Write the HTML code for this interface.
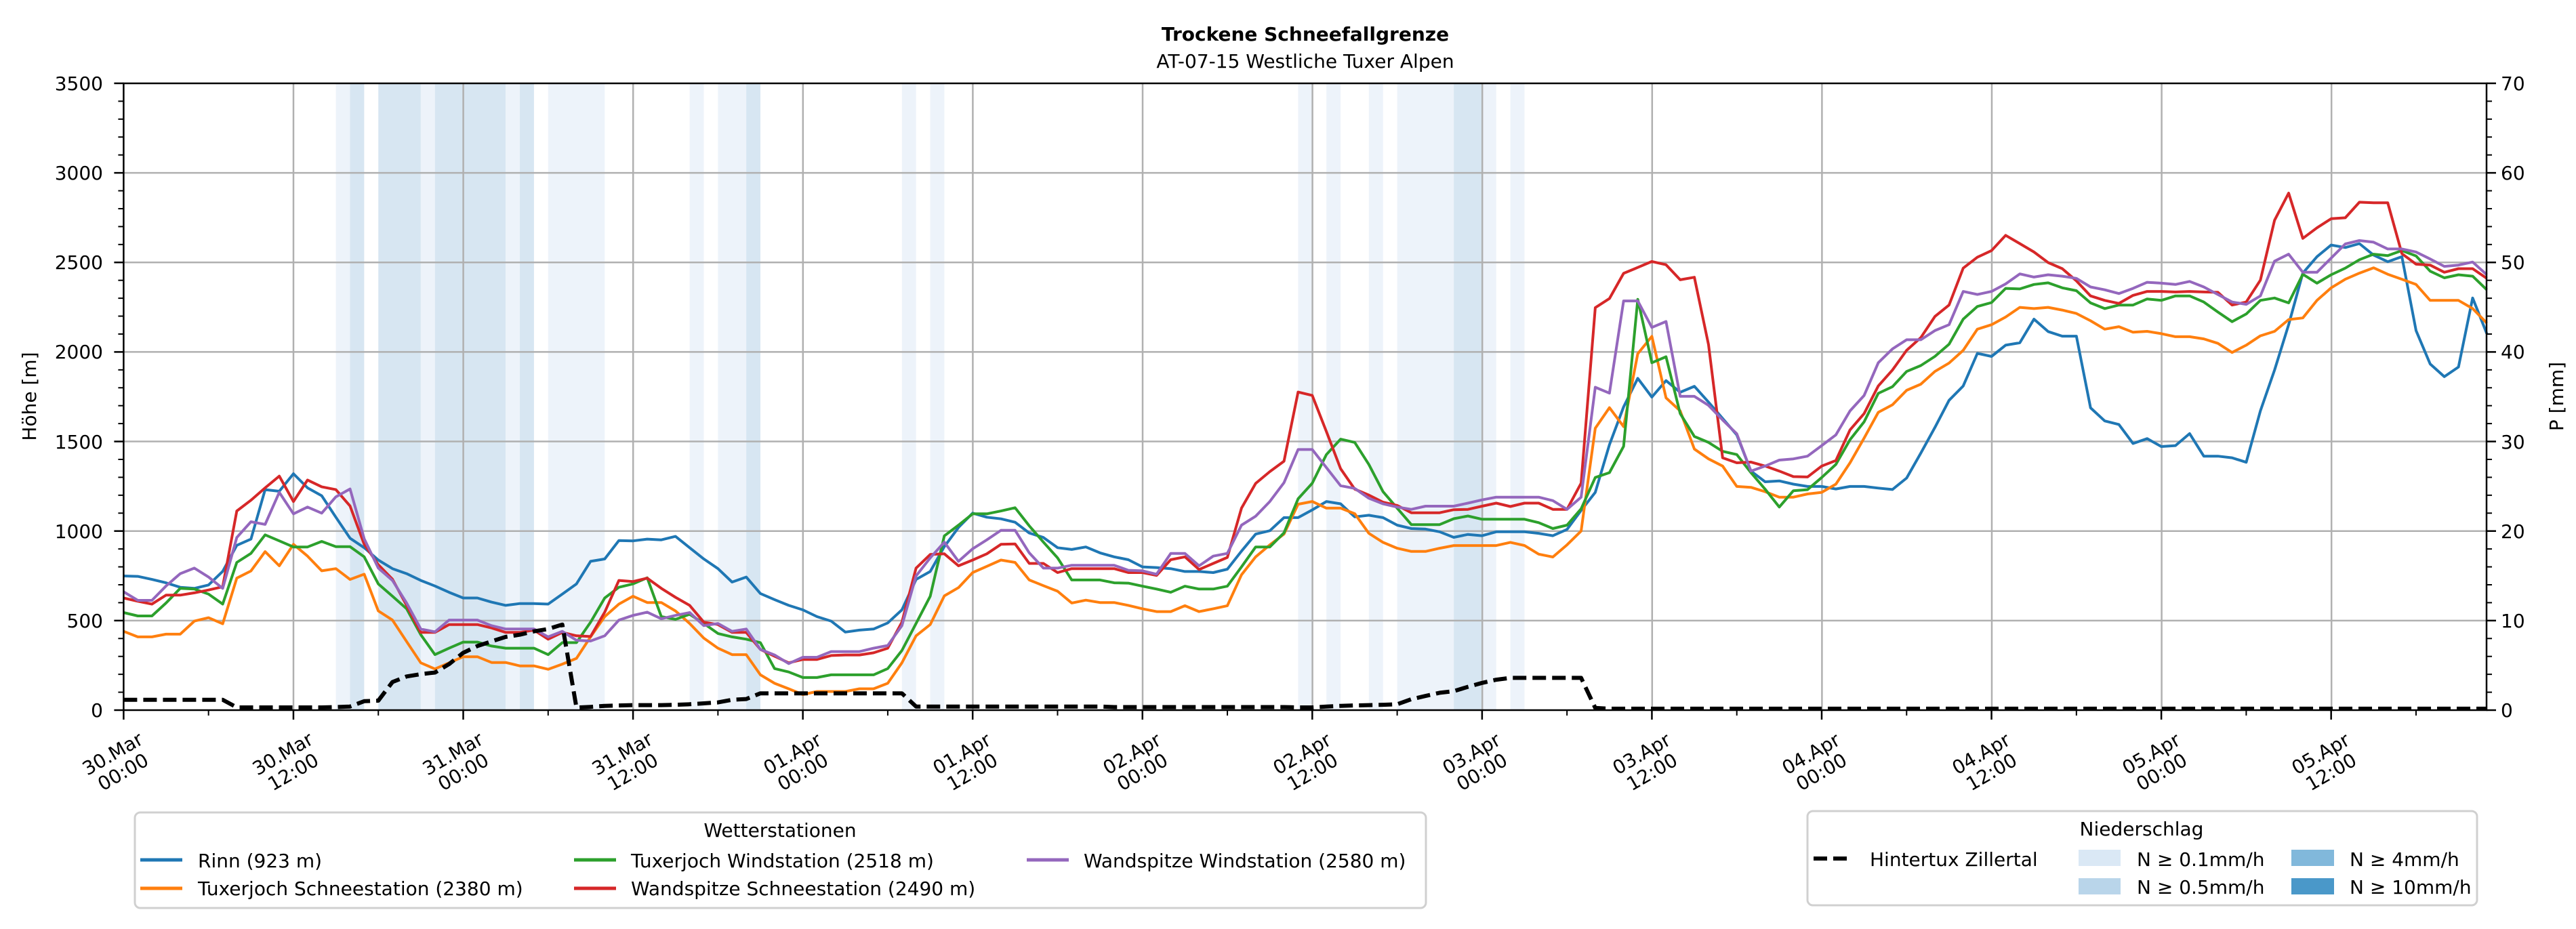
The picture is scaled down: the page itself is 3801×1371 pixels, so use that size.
<!DOCTYPE html>
<html><head><meta charset="utf-8"><style>
html,body{margin:0;padding:0;background:#fff}
svg{display:block}
text{font-family:"DejaVu Sans","Liberation Sans",sans-serif;font-size:28px;fill:#000}
</style></head><body>
<svg id="s" width="3801" height="1371" viewBox="0 0 3801 1371" xmlns="http://www.w3.org/2000/svg">
<rect width="3801" height="1371" fill="#fff"/>
<g id="bands"></g>
<g id="grid" stroke="#b0b0b0" stroke-width="2.5"></g>
<g id="series" fill="none" stroke-linejoin="round"></g>
<g id="axes" stroke="#000"></g>
<text x="1926" y="60" text-anchor="middle" font-weight="bold">Trockene Schneefallgrenze</text>
<text x="1926" y="100" text-anchor="middle">AT-07-15 Westliche Tuxer Alpen</text>
<g text-anchor="end">
<text x="152" y="1058">0</text><text x="152" y="926">500</text><text x="152" y="794">1000</text><text x="152" y="662">1500</text>
<text x="152" y="529">2000</text><text x="152" y="397">2500</text><text x="152" y="265">3000</text><text x="152" y="133">3500</text>
</g>
<g>
<text x="3690" y="1058">0</text><text x="3690" y="926">10</text><text x="3690" y="794">20</text><text x="3690" y="662">30</text>
<text x="3690" y="529">40</text><text x="3690" y="397">50</text><text x="3690" y="265">60</text><text x="3690" y="133">70</text>
</g>
<text transform="translate(53,585) rotate(-90)" text-anchor="middle">Höhe [m]</text>
<text transform="translate(3782,585) rotate(-90)" text-anchor="middle">P [mm]</text>
<g id="xl" text-anchor="middle">
<g transform="translate(174,1126) rotate(-30)"><text y="-6">30.Mar</text><text y="25">00:00</text></g>
<g transform="translate(425,1126) rotate(-30)"><text y="-6">30.Mar</text><text y="25">12:00</text></g>
<g transform="translate(676,1126) rotate(-30)"><text y="-6">31.Mar</text><text y="25">00:00</text></g>
<g transform="translate(926,1126) rotate(-30)"><text y="-6">31.Mar</text><text y="25">12:00</text></g>
<g transform="translate(1177,1126) rotate(-30)"><text y="-6">01.Apr</text><text y="25">00:00</text></g>
<g transform="translate(1427,1126) rotate(-30)"><text y="-6">01.Apr</text><text y="25">12:00</text></g>
<g transform="translate(1678,1126) rotate(-30)"><text y="-6">02.Apr</text><text y="25">00:00</text></g>
<g transform="translate(1929,1126) rotate(-30)"><text y="-6">02.Apr</text><text y="25">12:00</text></g>
<g transform="translate(2179,1126) rotate(-30)"><text y="-6">03.Apr</text><text y="25">00:00</text></g>
<g transform="translate(2430,1126) rotate(-30)"><text y="-6">03.Apr</text><text y="25">12:00</text></g>
<g transform="translate(2680,1126) rotate(-30)"><text y="-6">04.Apr</text><text y="25">00:00</text></g>
<g transform="translate(2931,1126) rotate(-30)"><text y="-6">04.Apr</text><text y="25">12:00</text></g>
<g transform="translate(3182,1126) rotate(-30)"><text y="-6">05.Apr</text><text y="25">00:00</text></g>
<g transform="translate(3432,1126) rotate(-30)"><text y="-6">05.Apr</text><text y="25">12:00</text></g>
</g>
<!-- Legend 1 -->
<rect x="199" y="1199" width="1905" height="141" rx="8" fill="#fff" stroke="#d0d0d0" stroke-width="3"/>
<text x="1151" y="1235" text-anchor="middle">Wetterstationen</text>
<g stroke-width="5">
<line x1="207" y1="1269" x2="269" y2="1269" stroke="#1f77b4"/>
<line x1="207" y1="1311" x2="269" y2="1311" stroke="#ff7f0e"/>
<line x1="847" y1="1269" x2="909" y2="1269" stroke="#2ca02c"/>
<line x1="847" y1="1311" x2="909" y2="1311" stroke="#d62728"/>
<line x1="1515" y1="1269" x2="1577" y2="1269" stroke="#9467bd"/>
</g>
<text x="292" y="1280">Rinn (923 m)</text>
<text x="292" y="1321">Tuxerjoch Schneestation (2380 m)</text>
<text x="931" y="1280">Tuxerjoch Windstation (2518 m)</text>
<text x="931" y="1321">Wandspitze Schneestation (2490 m)</text>
<text x="1599" y="1280">Wandspitze Windstation (2580 m)</text>
<!-- Legend 2 -->
<rect x="2667" y="1197" width="988" height="139" rx="8" fill="#fff" stroke="#d0d0d0" stroke-width="3"/>
<text x="3160" y="1233" text-anchor="middle">Niederschlag</text>
<line x1="2676" y1="1267" x2="2734" y2="1267" stroke="#000" stroke-width="6" stroke-dasharray="20 9"/>
<text x="2759" y="1278">Hintertux Zillertal</text>
<rect x="3067" y="1254" width="62" height="24" fill="#dae8f5"/>
<rect x="3067" y="1296" width="62" height="24" fill="#b9d5ea"/>
<rect x="3381" y="1254" width="63" height="24" fill="#81b8db"/>
<rect x="3381" y="1296" width="63" height="24" fill="#4a98c9"/>
<text x="3153" y="1278">N ≥ 0.1mm/h</text>
<text x="3153" y="1319">N ≥ 0.5mm/h</text>
<text x="3467" y="1278">N ≥ 4mm/h</text>
<text x="3467" y="1319">N ≥ 10mm/h</text>
</svg>
<script>
(function(){
var NS="http://www.w3.org/2000/svg";
var L=182.4,R=3669,T=123,B=1048,DX=20.88,SY=0.2643;
function X(h){return L+h*DX}function Y(v){return B-v*SY}
function el(p,n,a){var e=document.createElementNS(NS,n);for(var k in a)e.setAttribute(k,a[k]);document.getElementById(p).appendChild(e);return e}
var bands=[[15,16,0],[16,17,1],[18,21,1],[21,22,0],[22,27,1],[27,28,0],[28,29,1],[30,34,0],[40,41,0],[42,44,0],[44,45,1],[55,56,0],[57,58,0],[83,84,0],[85,86,0],[88,89,0],[90,94,0],[94,96,1],[96,97,0],[98,99,0]];
bands.forEach(function(b){el("bands","rect",{x:X(b[0]),y:T,width:(b[1]-b[0])*DX,height:B-T,fill:b[2]?"#d7e6f2":"#edf3fa"})});
for(var k=1;k<14;k++){var x=L+k*250.6;el("grid","line",{x1:x,y1:T,x2:x,y2:B})}
for(var k=1;k<7;k++){var y=B-k*132.15;el("grid","line",{x1:L,y1:y,x2:R,y2:y})}
var D={
blue:[749,747,730,711,686,680,699,775,920,955,1231,1222,1320,1241,1197,1077,960,907,838,790,762,724,693,658,626,626,603,585,595,595,592,648,705,831,844,947,945,955,951,970,907,844,790,715,743,651,617,585,560,522,497,436,447,453,487,560,730,774,913,1020,1100,1077,1068,1049,989,964,907,897,911,878,856,840,800,796,790,774,774,768,787,888,983,1002,1075,1075,1118,1165,1152,1079,1088,1075,1033,1014,1011,996,965,981,974,996,996,996,987,974,1009,1115,1216,1482,1693,1853,1748,1840,1775,1808,1720,1629,1537,1335,1275,1280,1262,1249,1249,1235,1249,1249,1240,1232,1296,1435,1578,1730,1810,1992,1975,2038,2051,2183,2114,2088,2088,1688,1615,1595,1489,1516,1472,1477,1544,1418,1418,1409,1384,1671,1899,2152,2440,2532,2597,2583,2605,2541,2504,2532,2119,1933,1862,1916,2301,2102],
orange:[440,409,409,424,424,497,516,482,737,777,885,806,926,860,778,790,730,759,554,503,383,264,230,264,298,298,266,266,247,247,228,257,289,409,522,592,636,601,601,554,484,402,346,310,310,197,150,119,87,104,104,104,119,119,150,264,415,478,638,684,768,803,838,825,727,695,664,598,614,601,601,585,566,550,550,583,550,566,583,756,856,923,983,1150,1165,1128,1128,1097,987,937,904,886,886,904,919,919,919,919,937,919,871,855,923,1000,1574,1689,1583,1990,2087,1744,1671,1458,1403,1363,1249,1244,1220,1189,1189,1207,1216,1262,1381,1519,1663,1705,1786,1820,1891,1938,2009,2127,2152,2195,2249,2242,2249,2234,2215,2174,2127,2141,2110,2115,2102,2085,2085,2073,2048,1997,2038,2090,2115,2181,2190,2288,2358,2406,2440,2470,2434,2406,2377,2288,2288,2288,2242,2161],
green:[545,526,526,598,680,676,648,592,825,875,979,945,911,911,942,913,913,856,705,636,566,421,310,346,380,380,358,346,346,346,310,377,377,491,626,686,705,739,522,507,535,484,428,409,396,377,232,213,182,182,197,197,197,197,232,333,484,636,973,1033,1096,1096,1112,1130,1029,938,850,727,727,727,711,709,692,676,658,692,676,676,692,800,911,911,990,1180,1267,1427,1513,1495,1372,1220,1128,1036,1036,1036,1069,1084,1066,1066,1066,1066,1047,1014,1033,1124,1299,1326,1473,2294,1940,1973,1656,1528,1495,1445,1427,1326,1234,1134,1225,1231,1299,1372,1510,1610,1769,1806,1891,1924,1975,2043,2183,2254,2276,2355,2352,2377,2386,2358,2342,2274,2242,2262,2262,2296,2288,2313,2313,2279,2223,2169,2212,2288,2301,2274,2434,2384,2431,2468,2515,2546,2538,2566,2536,2451,2414,2431,2423,2347],
red:[626,608,592,642,642,655,671,689,1112,1172,1241,1307,1165,1285,1247,1231,1140,926,812,731,585,434,434,478,478,478,459,434,434,447,396,434,415,411,547,724,718,737,680,630,585,491,478,434,434,339,301,264,283,283,305,308,308,320,346,491,793,869,873,806,838,873,926,928,819,819,768,790,790,790,790,768,768,752,840,856,785,819,853,1128,1266,1332,1390,1776,1757,1555,1348,1234,1201,1161,1143,1102,1102,1102,1119,1121,1139,1156,1137,1156,1156,1121,1121,1267,2247,2298,2439,2472,2505,2487,2403,2417,2041,1409,1381,1385,1363,1335,1304,1302,1363,1394,1565,1656,1810,1899,2009,2080,2198,2262,2468,2529,2566,2651,2605,2558,2499,2465,2397,2313,2288,2271,2316,2338,2338,2335,2338,2335,2333,2262,2279,2401,2735,2887,2634,2693,2744,2749,2836,2833,2833,2549,2490,2485,2445,2465,2465,2411],
purple:[661,613,613,693,762,793,743,680,964,1052,1037,1216,1096,1134,1100,1191,1235,957,793,724,598,453,437,503,503,503,472,453,453,453,409,440,390,386,415,503,529,547,510,529,545,472,484,440,453,339,308,260,295,295,327,327,327,346,361,472,749,850,938,831,901,951,1004,1004,878,793,793,809,809,809,809,781,778,759,875,875,806,860,875,1033,1083,1165,1270,1455,1455,1354,1253,1238,1183,1152,1134,1121,1139,1139,1139,1156,1174,1189,1189,1189,1189,1170,1121,1189,1803,1770,2285,2285,2137,2170,1752,1752,1702,1620,1543,1335,1363,1396,1403,1418,1477,1537,1671,1757,1940,2017,2068,2068,2119,2152,2338,2321,2338,2380,2436,2418,2431,2423,2411,2363,2347,2326,2355,2389,2384,2377,2394,2363,2321,2279,2266,2313,2507,2546,2445,2445,2524,2603,2622,2613,2575,2575,2558,2519,2478,2485,2502,2431]
};
var P=[58,58,58,58,58,58,58,58,15,15,15,15,15,15,15,17,20,50,53,157,188,201,210,257,320,358,384,409,421,440,453,478,14,18,24,26,28,28,28,30,33,38,43,58,62,94,94,94,94,94,94,94,94,94,94,94,20];
while(P.length<83)P.push(P.length<70?20:17);
P=P.concat([15,15,20,24,26,28,30,33,61,79,97,106,130,152,170,180,180,180,180,180,180,12]);
while(P.length<168)P.push(8);
function pts(a){return a.map(function(v,i){return X(i).toFixed(1)+","+Y(v).toFixed(1)}).join(" ")}
[["blue","#1f77b4"],["orange","#ff7f0e"],["green","#2ca02c"],["red","#d62728"],["purple","#9467bd"]].forEach(function(s){
el("series","polyline",{points:pts(D[s[0]]),stroke:s[1],"stroke-width":4})});
el("series","polyline",{points:pts(P),stroke:"#000","stroke-width":6,"stroke-dasharray":"20 9"});
el("axes","rect",{x:L,y:T,width:R-L,height:B-T,fill:"none","stroke-width":2.5});
for(var h=0;h<=167;h+=6){var x=X(h),maj=(h%12==0);el("axes","line",{x1:x,y1:B,x2:x,y2:B+(maj?14:8),"stroke-width":maj?2.5:2})}
for(var v=0;v<=3500;v+=100){var y=Y(v),maj=(v%500==0);
el("axes","line",{x1:L,y1:y,x2:L-(maj?14:8),y2:y,"stroke-width":maj?2.5:2});
el("axes","line",{x1:R,y1:y,x2:R+(maj?14:8),y2:y,"stroke-width":maj?2.5:2});}
})();
</script>
</body></html>
